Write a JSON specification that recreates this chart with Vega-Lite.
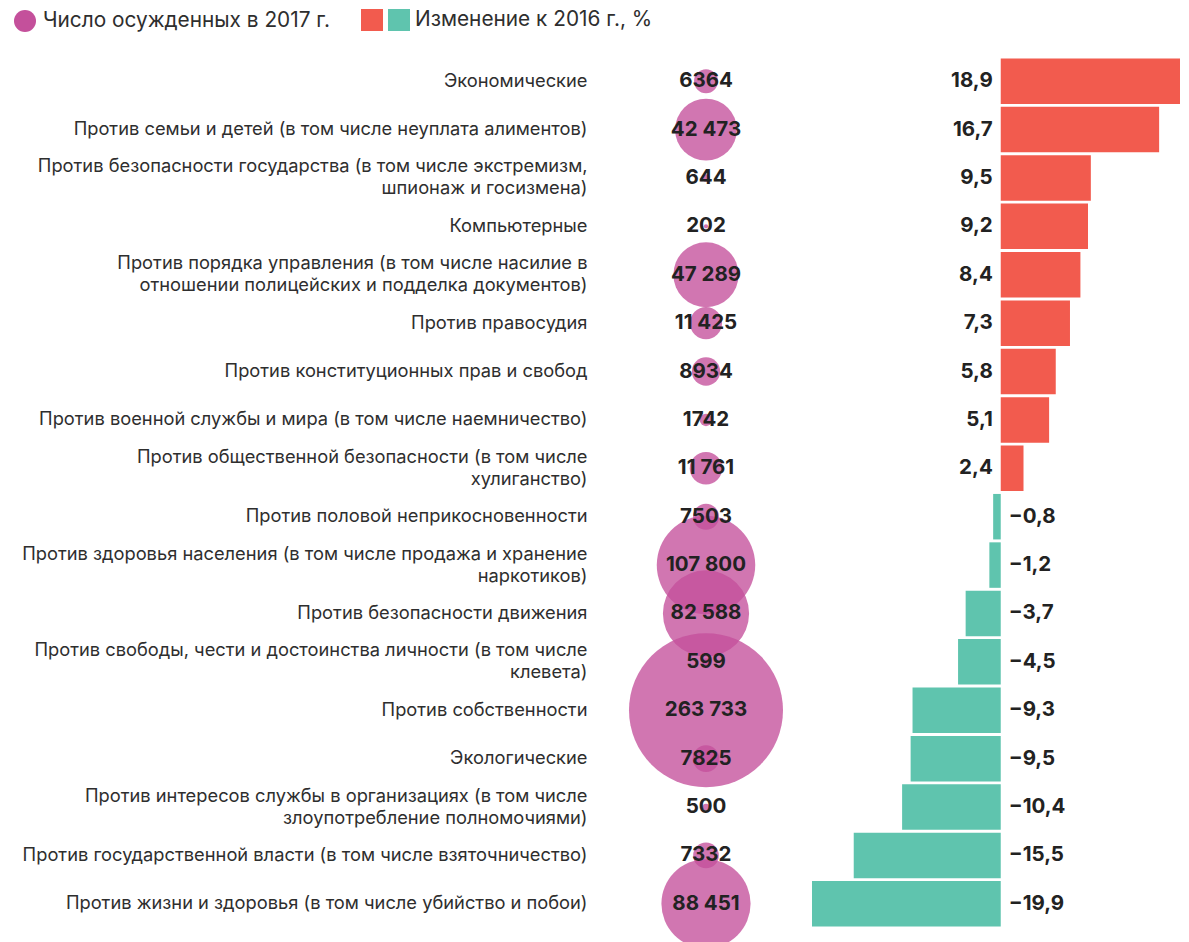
{
  "$schema": "https://vega.github.io/schema/vega-lite/v6.json",
  "background": "white",
  "padding": {"left": 13, "top": 9, "right": 4, "bottom": 0},
  "bounds": "flush",
  "spacing": 6,
  "config": {"view": {"stroke": null}, "font": "Inter"},
  "data": {"values": [
    {"cat": "Экономические", "count": 6364, "countLabel": "6364", "change": 18.9, "changeLabel": "18,9", "sign": "pos"},
    {"cat": "Против семьи и детей (в том числе неуплата алиментов)", "count": 42473, "countLabel": "42 473", "change": 16.7, "changeLabel": "16,7", "sign": "pos"},
    {"cat": "Против безопасности государства (в том числе экстремизм,|шпионаж и госизмена)", "count": 644, "countLabel": "644", "change": 9.5, "changeLabel": "9,5", "sign": "pos"},
    {"cat": "Компьютерные", "count": 202, "countLabel": "202", "change": 9.2, "changeLabel": "9,2", "sign": "pos"},
    {"cat": "Против порядка управления (в том числе насилие в|отношении полицейских и подделка документов)", "count": 47289, "countLabel": "47 289", "change": 8.4, "changeLabel": "8,4", "sign": "pos"},
    {"cat": "Против правосудия", "count": 11425, "countLabel": "11 425", "change": 7.3, "changeLabel": "7,3", "sign": "pos"},
    {"cat": "Против конституционных прав и свобод", "count": 8934, "countLabel": "8934", "change": 5.8, "changeLabel": "5,8", "sign": "pos"},
    {"cat": "Против военной службы и мира (в том числе наемничество)", "count": 1742, "countLabel": "1742", "change": 5.1, "changeLabel": "5,1", "sign": "pos"},
    {"cat": "Против общественной безопасности (в том числе|хулиганство)", "count": 11761, "countLabel": "11 761", "change": 2.4, "changeLabel": "2,4", "sign": "pos"},
    {"cat": "Против половой неприкосновенности", "count": 7503, "countLabel": "7503", "change": -0.8, "changeLabel": "−0,8", "sign": "neg"},
    {"cat": "Против здоровья населения (в том числе продажа и хранение|наркотиков)", "count": 107800, "countLabel": "107 800", "change": -1.2, "changeLabel": "−1,2", "sign": "neg"},
    {"cat": "Против безопасности движения", "count": 82588, "countLabel": "82 588", "change": -3.7, "changeLabel": "−3,7", "sign": "neg"},
    {"cat": "Против свободы, чести и достоинства личности (в том числе|клевета)", "count": 599, "countLabel": "599", "change": -4.5, "changeLabel": "−4,5", "sign": "neg"},
    {"cat": "Против собственности", "count": 263733, "countLabel": "263 733", "change": -9.3, "changeLabel": "−9,3", "sign": "neg"},
    {"cat": "Экологические", "count": 7825, "countLabel": "7825", "change": -9.5, "changeLabel": "−9,5", "sign": "neg"},
    {"cat": "Против интересов службы в организациях (в том числе|злоупотребление полномочиями)", "count": 500, "countLabel": "500", "change": -10.4, "changeLabel": "−10,4", "sign": "neg"},
    {"cat": "Против государственной власти (в том числе взяточничество)", "count": 7332, "countLabel": "7332", "change": -15.5, "changeLabel": "−15,5", "sign": "neg"},
    {"cat": "Против жизни и здоровья (в том числе убийство и побои)", "count": 88451, "countLabel": "88 451", "change": -19.9, "changeLabel": "−19,9", "sign": "neg"}
  ]},
  "resolve": {"scale": {"color": "independent", "size": "independent"}, "legend": {"color": "independent", "size": "independent"}},
  "hconcat": [
    {
      "width": 200,
      "height": 871,
      "encoding": {
        "y": {
          "field": "cat", "type": "nominal", "sort": null,
          "scale": {"paddingInner": 0.06, "paddingOuter": 0.03},
          "axis": {
            "title": null, "domain": false, "ticks": false, "labelPadding": 19,
            "labelExpr": "split(datum.value, '|')",
            "labelOffset": {"condition": {"test": "indexof(datum.value, '|') >= 0", "value": -11}, "value": 0},
            "labelFont": "Inter", "labelFontSize": 18.3, "labelColor": "#2e2e2e",
            "labelLineHeight": 22, "labelLimit": 800
          }
        }
      },
      "layer": [
        {
          "mark": {"type": "circle", "opacity": 0.78},
          "encoding": {
            "size": {"field": "count", "type": "quantitative", "scale": {"domain": [0, 263733], "range": [0, 23716], "zero": true}, "legend": null},
            "color": {
              "datum": "Число осужденных в 2017 г.",
              "type": "nominal",
              "scale": {"range": ["#c4509b"]},
              "legend": {
                "title": null, "orient": "none", "legendX": -593, "legendY": -48,
                "symbolType": "circle", "symbolSize": 484, "symbolOpacity": 1,
                "labelFont": "Inter", "labelFontSize": 20.8, "labelColor": "#2e2e2e",
                "labelOffset": 6, "labelLimit": 600, "padding": 0
              }
            }
          }
        },
        {
          "mark": {"type": "text", "font": "Inter", "fontWeight": "bold", "fontSize": 20.5, "color": "#222222", "baseline": "middle"},
          "encoding": {"text": {"field": "countLabel"}}
        }
      ]
    },
    {
      "width": 368,
      "height": 871,
      "encoding": {
        "y": {
          "field": "cat", "type": "nominal", "sort": null,
          "scale": {"paddingInner": 0.06, "paddingOuter": 0.03},
          "axis": null
        }
      },
      "layer": [
        {
          "mark": {"type": "bar"},
          "encoding": {
            "x": {"field": "change", "type": "quantitative", "scale": {"domain": [-19.9, 18.9], "nice": false, "zero": true}, "axis": null},
            "color": {
              "field": "sign", "type": "nominal",
              "scale": {"domain": ["pos", "neg"], "range": ["#f25b4e", "#5fc4ae"]},
              "legend": {
                "title": null, "orient": "none", "legendX": -451, "legendY": -48,
                "direction": "horizontal", "columns": 2,
                "symbolType": "square", "symbolSize": 484, "symbolOpacity": 1, "symbolStrokeWidth": 0,
                "labelExpr": "datum.value == 'pos' ? '' : 'Изменение к 2016 г., %'",
                "labelFont": "Inter", "labelFontSize": 20.8, "labelColor": "#2e2e2e",
                "labelOffset": 5, "columnPadding": -3, "labelLimit": 600, "padding": 0
              }
            }
          }
        },
        {
          "transform": [{"filter": "datum.change > 0"}],
          "mark": {"type": "text", "font": "Inter", "fontWeight": "bold", "fontSize": 20.5, "color": "#222222", "align": "right", "baseline": "middle", "dx": -8},
          "encoding": {
            "x": {"datum": 0, "type": "quantitative"},
            "text": {"field": "changeLabel"}
          }
        },
        {
          "transform": [{"filter": "datum.change < 0"}],
          "mark": {"type": "text", "font": "Inter", "fontWeight": "bold", "fontSize": 20.5, "color": "#222222", "align": "left", "baseline": "middle", "dx": 8},
          "encoding": {
            "x": {"datum": 0, "type": "quantitative"},
            "text": {"field": "changeLabel"}
          }
        }
      ]
    }
  ]
}
